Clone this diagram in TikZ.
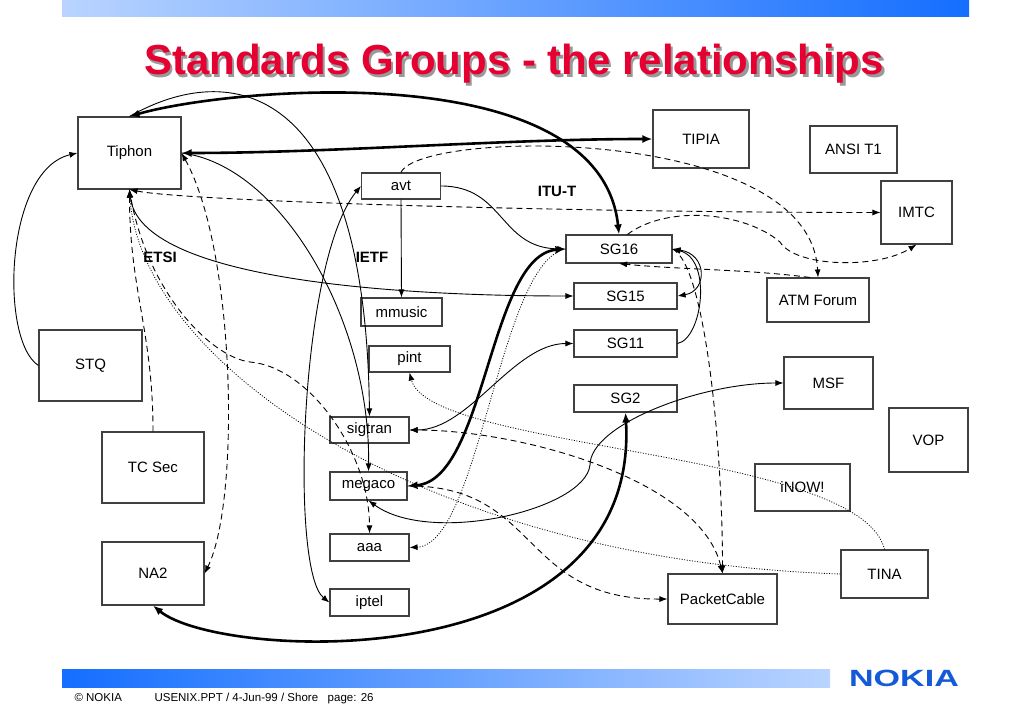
\documentclass[tikz,border=0pt]{standalone}
\usepackage{fontspec}
\setmainfont{Liberation Sans}
\usetikzlibrary{arrows.meta}
\definecolor{ttlred}{RGB}{230,0,50}
\definecolor{barblue}{RGB}{20,110,255}
\definecolor{barlight}{RGB}{185,212,255}
\definecolor{nokiablue}{RGB}{20,90,215}
\begin{document}
\begin{tikzpicture}[x=1pt,y=-1pt,>={Latex[length=8pt,width=6pt]},
	grp/.style 2 args={draw=black!75,line width=1.1pt,inner sep=0pt,minimum width=#1pt,minimum height=#2pt,font=\fontsize{15}{18}\selectfont},
	org/.style={font=\bfseries\fontsize{15}{18}\selectfont},
	plainln/.style={line width=0.9pt},
	boldln/.style={line width=2.6pt,>={Latex[length=10pt,width=8pt]}},
	dashln/.style={line width=0.9pt,dash pattern=on 6pt off 4pt},
	dotln/.style={line width=0.8pt,dash pattern=on 1pt off 1.6pt},
	ttl/.style={anchor=base,font=\bfseries\fontsize{42}{48}\selectfont}]
\useasboundingbox (0,0) rectangle (1023,708);
\fill[white] (0,0) rectangle (1023,708);
\shade[left color=barlight,right color=barblue] (62,0) rectangle (969,17);
\shade[left color=barblue,right color=barlight] (62,669) rectangle (830,687);
\node[ttl,text=black!40] (shadow) at (516.5,77.5) {Standards Groups - the relationships};
\node[ttl,text=ttlred] (title) at (514,75) {Standards Groups - the relationships};
\node[anchor=base west,font=\fontsize{11.5}{13}\selectfont] (copy) at (71,701) {© NOKIA};
\node[anchor=base west,font=\fontsize{11.5}{13}\selectfont] (foot) at (151,701) {USENIX.PPT / 4-Jun-99 / Shore\ \ \ page: 26};
\node[font=\bfseries\fontsize{23.5}{24}\selectfont,text=nokiablue] (nokia) at (904,678.5) {\scalebox{1.45}[1]{NOKIA}};

\node[grp={103}{72}] (tiphon) at (129.5,153) {Tiphon};
\node[grp={96}{58}] (tipia) at (701,139) {TIPIA};
\node[grp={87}{47}] (ansi) at (853.5,149.5) {ANSI T1};
\node[grp={71}{63}] (imtc) at (916.5,212.5) {IMTC};
\node[grp={79}{26}] (avt) at (401,186) {avt};
\node[grp={81}{28}] (mmusic) at (401.5,312) {mmusic};
\node[grp={81}{26}] (pint) at (409.5,359) {pint};
\node[grp={79}{26}] (sigtran) at (369.5,430) {sigtran};
\node[grp={77}{28}] (megaco) at (368.5,486) {megaco};
\node[grp={79}{27}] (aaa) at (369.5,547.5) {aaa};
\node[grp={79}{27}] (iptel) at (369.5,602.5) {iptel};
\node[grp={106}{28}] (sg16) at (619,249) {SG16};
\node[grp={103}{26}] (sg15) at (625.5,296) {SG15};
\node[grp={103}{27}] (sg11) at (625.5,343.5) {SG11};
\node[grp={103}{27}] (sg2) at (625.5,398.5) {SG2};
\node[grp={102}{44}] (atm) at (818,300) {ATM Forum};
\node[grp={89}{52}] (msf) at (828.5,383) {MSF};
\node[grp={79}{64}] (vop) at (928.5,440) {VOP};
\node[grp={95}{47}] (inow) at (802.5,487.5) {iNOW!};
\node[grp={87}{48}] (tina) at (884.5,574) {TINA};
\node[grp={109}{50}] (pcable) at (722.5,599) {PacketCable};
\node[grp={103}{71}] (stq) at (90.5,365.5) {STQ};
\node[grp={102}{71}] (tcsec) at (153,467.5) {TC Sec};
\node[grp={102}{63}] (na2) at (153,573.5) {NA2};
\node[org] (etsi) at (160,257) {ETSI};
\node[org] (ietf) at (372,257) {IETF};
\node[org] (itut) at (557,191) {ITU-T};

\draw[boldln,<->] (tiphon.north) .. controls +(100,-29) and +(-19,-180) .. (sg16.north);
\draw[boldln,<->] (tiphon.east) .. controls +(150,0) and +(-150,0) .. (tipia.west);
\draw[dashln,<->] (tiphon.south) .. controls +(60,12) and +(-300,0) .. (imtc.west);
\draw[plainln,<->] (tiphon.south) .. controls +(10,91) and +(-174,0) .. (sg15.west);
\draw[dashln,<->] (tiphon.east) .. controls +(54,97) and +(36,-73) .. (na2.east);
\draw[plainln,->] (tiphon.east) .. controls +(99,12) and +(2,-152) .. (megaco.north);
\draw[plainln,->] (tiphon.north) .. controls +(100,-57) and +(-4,-337) .. (sigtran.north);
\draw[plainln,<->] (avt.west) .. controls +(-61,74) and +(-40,-32) .. (iptel.west);
\draw[plainln,->] (avt.south) -- (mmusic.north);
\draw[dashln,->] (avt.north) .. controls +(19,-43) and +(-8,-153) .. (atm.north);
\draw[plainln,->] (avt.east) .. controls +(63,0) and +(-66,-1) .. (sg16.west);
\draw[dashln,->] (sg16.60) .. controls +(40,-30) and +(-35,-30) .. (780,242) .. controls +(15,25) and +(-40,25) .. (imtc.south);
\draw[dashln,->] (atm.110) .. controls +(-60,-8) and +(60,6) .. (sg16.south);
\draw[boldln,<->] (sg16.west) .. controls +(-76,6) and +(78,-6) .. (megaco.east);
\draw[dotln,->] (sg16.west) .. controls +(-66,13) and +(70,-3) .. (aaa.east);
\draw[plainln,<->] (sg16.east) .. controls +(35,5) and +(30,-5) .. (sg15.east);
\draw[plainln,->] (sg11.east) .. controls +(25,-5) and +(40,10) .. (sg16.east);
\draw[dashln,->] (sg16.east) .. controls +(33,16) and +(0,-124) .. (pcable.north);
\draw[plainln,<->] (sg11.west) .. controls +(-60,0) and +(60,0) .. (sigtran.east);
\draw[boldln,<->] (na2.south) .. controls +(67,55) and +(15,268) .. (sg2.south);
\draw[plainln,<->] (msf.west) .. controls +(-84,0) and +(0,-40) .. (590,465) .. controls +(-5,45) and +(62,45) .. (megaco.south);
\draw[dashln,<->] (pcable.north) .. controls +(-22,-94) and +(111,0) .. (sigtran.east);
\draw[dashln,->] (megaco.east) .. controls +(133,-1) and +(-148,1) .. (pcable.west);
\draw[dotln,->] (tina.west) .. controls +(-421,-14) and +(10,171) .. (tiphon.south);
\draw[dotln,->] (tina.north) .. controls +(-24,-100) and +(20,78) .. (pint.south);
\draw[dashln,->] (tcsec.north) .. controls +(0,-100) and +(0,100) .. (tiphon.south);
\draw[dashln,->] (tiphon.south) .. controls +(15,100) and +(-40,-5) .. (250,362) .. controls +(60,5) and +(0,-80) .. (aaa.north);
\draw[plainln,->] (stq.west) .. controls +(-39,-25) and +(-73,17) .. (tiphon.west);
\end{tikzpicture}
\end{document}
